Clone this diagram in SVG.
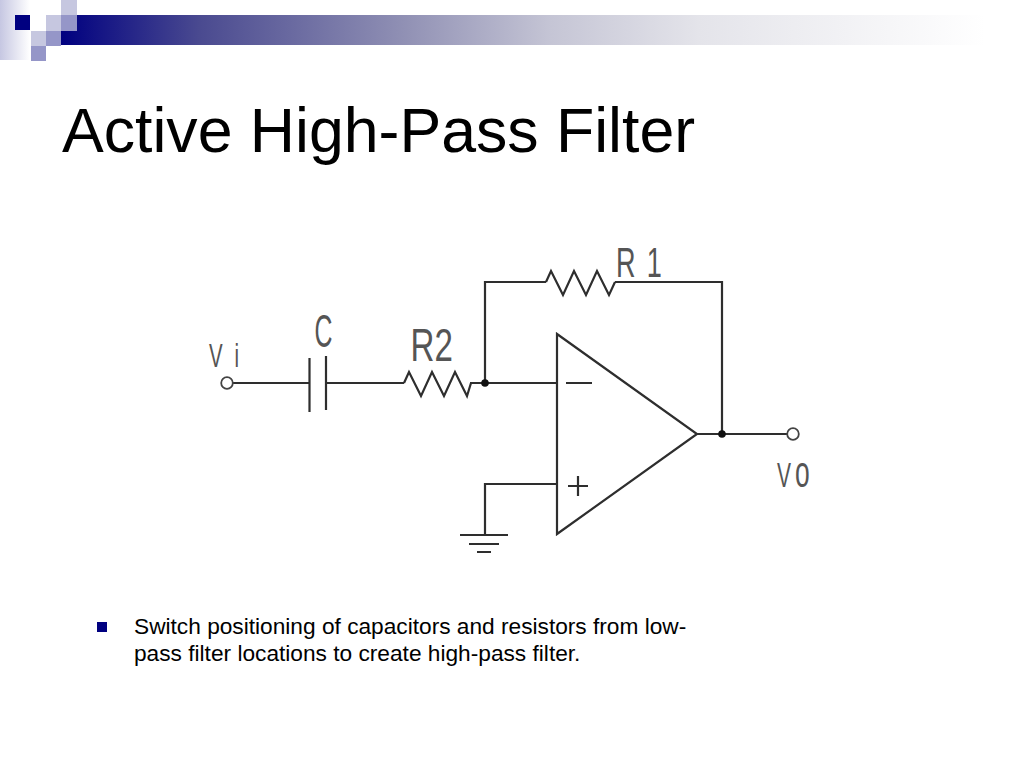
<svg xmlns="http://www.w3.org/2000/svg" width="1024" height="768" viewBox="0 0 1024 768">
<style>
.w{fill:none;stroke:#2e2e2e;stroke-width:2.200}
.lab{font-family:"Liberation Sans",Arial,sans-serif;fill:#555;font-weight:normal}
.dot{fill:#111}
.hollow{fill:#fff;stroke:#444;stroke-width:1.800}
</style>
<defs>
<linearGradient id="bar" gradientUnits="userSpaceOnUse" x1="61" x2="985" y1="0" y2="0"><stop offset="0" stop-color="#000080"/><stop offset="0.15" stop-color="#4a4a90"/><stop offset="0.37" stop-color="#9090b4"/><stop offset="0.53" stop-color="#c5c5d5"/><stop offset="0.69" stop-color="#e4e4ea"/><stop offset="1" stop-color="#ffffff"/></linearGradient>
<linearGradient id="side" x1="0" x2="1" y1="0" y2="0"><stop offset="0" stop-color="#c6c7e2"/><stop offset="1" stop-color="#ffffff"/></linearGradient>
</defs>
<rect width="1024" height="768" fill="#fff"/>
<g id="header">
<rect x="0" y="0" width="30" height="60" fill="url(#side)"/>
<rect x="61" y="15" width="924" height="30" fill="url(#bar)"/>
<rect x="15" y="15" width="15" height="15" fill="#000080"/>
<rect x="30" y="15" width="16" height="16" fill="#fff"/>
<rect x="46" y="15" width="15" height="16" fill="#c6c7e0"/>
<rect x="61" y="15" width="16" height="16" fill="#9596c8"/>
<rect x="61" y="0" width="16" height="15" fill="#c6c7e0"/>
<rect x="31" y="31" width="15" height="15" fill="#c6c7e0"/>
<rect x="46" y="31" width="15" height="15" fill="#9596c8"/>
<rect x="31" y="46" width="15" height="15" fill="#9596c8"/>
</g>
<text id="title" x="62" y="151.500" font-family="'Liberation Sans',Arial,sans-serif" font-size="62.600" fill="#000">Active High-Pass Filter</text>
<g id="connectors">
<path class="w" d="M233 383H309M327 383H404"/>
<path class="w" d="M470 383H557"/>
<path class="w" d="M546 282H485V383"/>
<path class="w" d="M615 282H722V434"/>
<path class="w" d="M697 434H787"/>
<path class="w" d="M557 484H485V535"/>
</g>
<g id="C"><path class="w" d="M309.500 358V412M326 356V410"/><text class="lab" transform="translate(314.500 346.500) scale(.54 1)" font-size="46">C</text></g>
<g id="R2"><path class="w" d="M404 383L409 372L421 396L432 372L444 396L455 372L467 396L471 383"/><text class="lab" transform="translate(410.500 361) scale(.72 1)" font-size="46">R2</text></g>
<g id="R1"><path class="w" d="M546 282L551 271L563 295L574 271L586 295L597 271L609 295L615 282"/><text class="lab" transform="translate(616 277) scale(.63 1)" font-size="43"><tspan x="0">R</tspan><tspan x="49">1</tspan></text></g>
<g id="opamp"><path class="w" d="M557 334L697 434L557 534Z"/><path class="w" d="M566 383H592M568 486H588M578 476V496"/></g>
<g id="ground"><path class="w" d="M460 535H508M469 544H499M477 552H491"/></g>
<g id="Vi"><circle class="hollow" cx="227" cy="383" r="5.800"/><text class="lab" transform="translate(209 367) scale(.62 1)" font-size="33"><tspan x="0">V</tspan><tspan x="41">i</tspan></text></g>
<g id="Vo"><circle class="hollow" cx="793" cy="434" r="5.800"/><text class="lab" transform="translate(777 487) scale(.6 1)" font-size="35"><tspan x="0">V</tspan><tspan x="30" font-size="44">o</tspan></text></g>
<g id="junctions"><circle class="dot" cx="485" cy="383" r="3.800"/><circle class="dot" cx="722" cy="434" r="3.800"/></g>
<g id="bullet"><rect x="97" y="622" width="10" height="10" fill="#000080"/>
<text font-family="'Liberation Sans',Arial,sans-serif" font-size="22.700" fill="#000"><tspan x="134" y="634">Switch positioning of capacitors and resistors from low-</tspan><tspan x="134" y="661">pass filter locations to create high-pass filter.</tspan></text></g>
</svg>
